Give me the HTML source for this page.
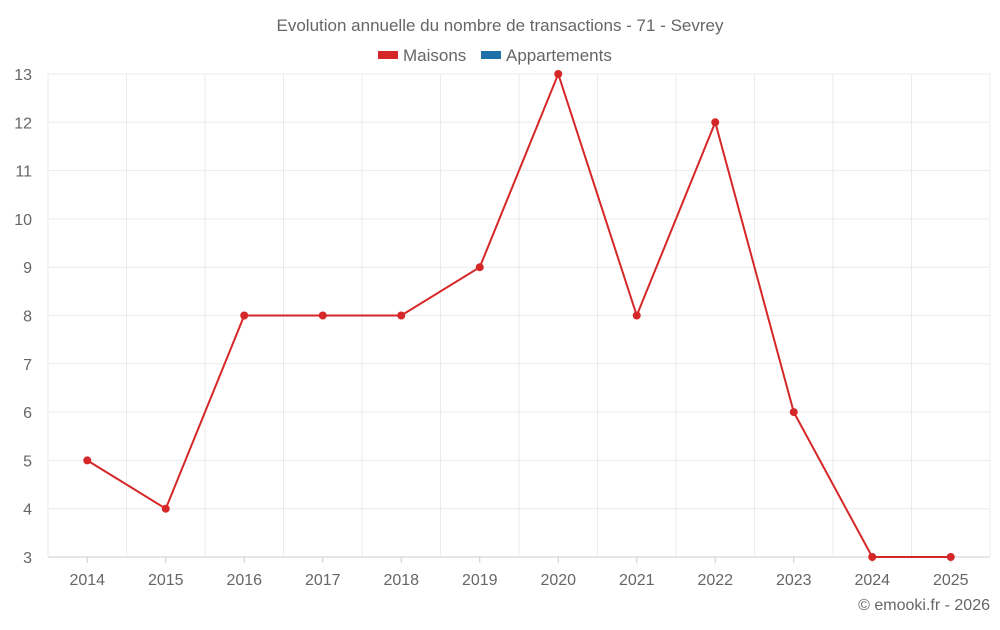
<!DOCTYPE html>
<html><head><meta charset="utf-8"><style>
body{margin:0;background:#fff;font-family:"Liberation Sans",sans-serif;}
svg text{font-family:"Liberation Sans",sans-serif;fill:#666;}
</style></head><body>
<svg id="c" width="1000" height="625">
<text x="500" y="31" text-anchor="middle" font-size="17">Evolution annuelle du nombre de transactions - 71 - Sevrey</text>
<g>
<g><rect x="378" y="51" width="20" height="8" fill="#d62728"/><text x="403" y="61" font-size="17">Maisons</text></g>
<g><rect x="481" y="51" width="20" height="8" fill="#1f6fa8"/><text x="506" y="61" font-size="17">Appartements</text></g>
</g>
<g id="grid"></g><g id="axes"></g><g id="series"></g>
<text x="990" y="610" text-anchor="end" font-size="16">© emooki.fr - 2026</text>
</svg>
<script>
const categories=["2014","2015","2016","2017","2018","2019","2020","2021","2022","2023","2024","2025"];
const maisons=[5,4,8,8,8,9,13,8,12,6,3,3];
const yTicks=[3,4,5,6,7,8,9,10,11,12,13];
const NS="http://www.w3.org/2000/svg";
const L=48,R=990,T=74,B=557,yMin=3,yMax=13;
const bw=(R-L)/categories.length;
const x=i=>L+bw*(i+0.5);
const y=v=>B-(v-yMin)/(yMax-yMin)*(B-T);
function mk(tag,attrs,parent){const e=document.createElementNS(NS,tag);for(const k in attrs)e.setAttribute(k,attrs[k]);document.getElementById(parent).appendChild(e);return e;}
yTicks.forEach(t=>{
 const g=mk('line',{x1:L,x2:R,y1:y(t),y2:y(t),stroke:t===yMin?'#ccc':'#ebebeb'},'grid');
 
 
 const lb=mk('text',{x:32,y:y(t)+6,'text-anchor':'end','font-size':16},'axes');lb.textContent=t;
 
 
});
for(let i=0;i<=categories.length;i++){
 const g=mk('line',{x1:L+bw*i,x2:L+bw*i,y1:T,y2:B+(i===0||i===categories.length?0:0),stroke:'#ebebeb'},'grid');
 
 
}
categories.forEach((c,i)=>{
 const tk=mk('line',{x1:x(i),x2:x(i),y1:B,y2:B+6,stroke:'#ccc'},'axes');
 
 
 const lb=mk('text',{x:x(i),y:585,'text-anchor':'middle','font-size':16},'axes');lb.textContent=c;
 
 
});
const p=mk('polyline',{points:maisons.map((v,i)=>x(i)+','+y(v)).join(' '),fill:'none',stroke:'#d62728','stroke-width':2},'series');


maisons.forEach((v,i)=>{
 const c=mk('circle',{cx:x(i),cy:y(v),r:4,fill:'#d62728'},'series');
 
 
});
</script>
</body></html>
